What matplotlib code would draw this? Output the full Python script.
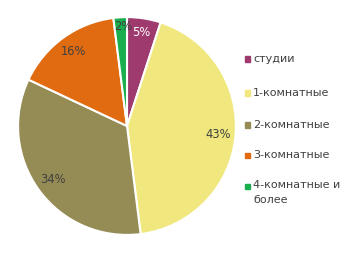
import matplotlib.pyplot as plt
from matplotlib.patches import Rectangle

labels = ["студии", "1-комнатные", "2-комнатные", "3-комнатные", "4-комнатные и\nболее"]
values = [5, 43, 34, 16, 2]
colors = ["#9E3A6E", "#F0E87E", "#958B55", "#E06B10", "#1AAE4F"]
text_colors = ["white", "#404040", "#404040", "#404040", "#404040"]

W, H = 351, 258
fig = plt.figure(figsize=(W / 100, H / 100), dpi=100)
fig.patch.set_facecolor("white")

# pie axes in pixel coords
cx, cy, r = 127, 126, 110
ax = fig.add_axes([(cx - r) / W, (H - cy - r) / H, 2 * r / W, 2 * r / H])
wedges, texts, autotexts = ax.pie(
    values, colors=colors, startangle=90, counterclock=False,
    autopct="%d%%", pctdistance=0.84, radius=1.0,
    wedgeprops=dict(edgecolor="white", linewidth=1.5),
    textprops=dict(fontsize=8.3, family="DejaVu Sans"))
for t, c in zip(autotexts, text_colors):
    t.set_color(c)
# small slices sit nearer the rim
autotexts[0].set_position((0.13, 0.86))
autotexts[4].set_position((-0.03, 0.91))
ax.set_xlim(-1.01, 1.01)
ax.set_ylim(-1.01, 1.01)
ax.set_aspect("equal")

# legend
leg_y = [59, 93, 125, 155, 186]
for lab, col, y in zip(labels, colors, leg_y):
    fig.patches.append(Rectangle(((245) / W, (H - y - 2.5) / H), 5 / W, 5 / H,
                                 transform=fig.transFigure, color=col))
    t = fig.text(253 / W, (H - y) / H, lab, fontsize=8, color="#404040",
                 va="center", ha="left", linespacing=1.6)
    if "\n" in lab:
        t.set_va("top")
        t.set_position((253 / W, (H - y + 6) / H))

fig.savefig("out.png", dpi=100)
